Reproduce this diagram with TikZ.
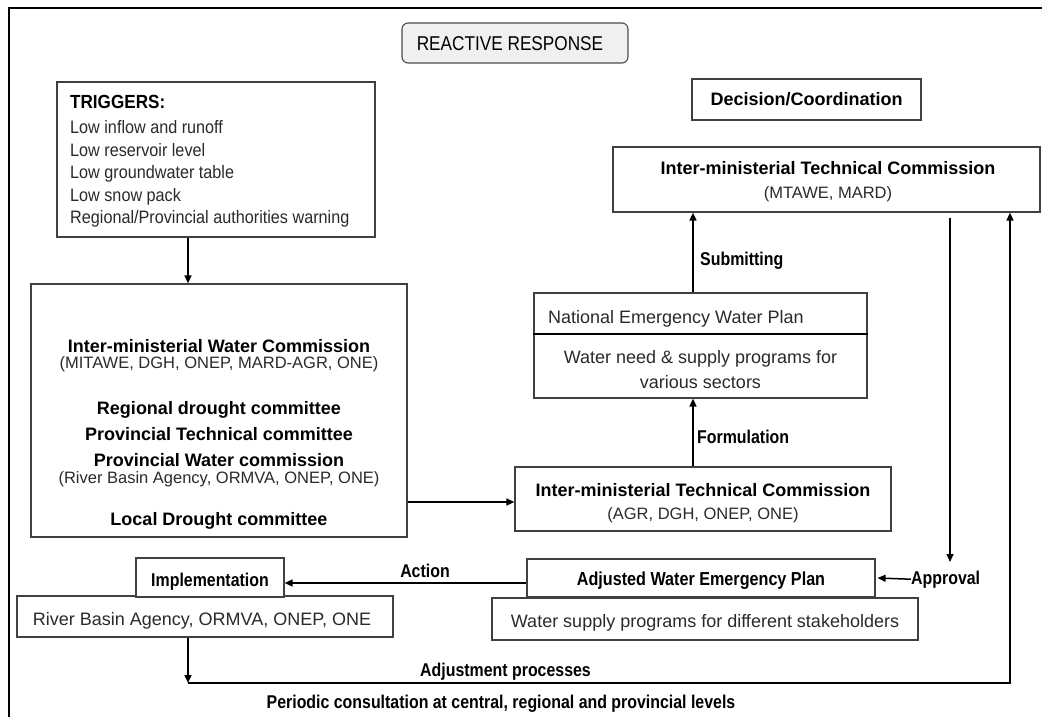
\documentclass[tikz,border=0pt]{standalone}
\usepackage{fontspec}
\setmainfont{Liberation Sans}
\newfontfamily\cond{Liberation Sans}[FakeStretch=0.9]
\newfontfamily\condn{Liberation Sans}[FakeStretch=0.86]
\usetikzlibrary{arrows.meta,calc}
\definecolor{boxc}{HTML}{404040}
\definecolor{regc}{HTML}{2A2A2A}
\begin{document}
\begin{tikzpicture}[x=1pt,y=-1pt,
  box/.style={draw=boxc,line width=1.2pt,fill=white,inner sep=0pt},
  arr/.style={-{Triangle[length=8pt,width=7pt]},line width=1.5pt,black},
  bt/.style={font=\fontsize{18}{20}\selectfont\bfseries,inner sep=0pt,anchor=base},
  rt/.style={font=\fontsize{18}{20}\selectfont,text=regc,inner sep=0pt,anchor=base},
  pt/.style={font=\fontsize{16.5}{18}\selectfont,text=regc,inner sep=0pt,anchor=base},
  lbl/.style={font=\condn\fontsize{18.5}{20}\selectfont\bfseries,inner sep=0pt,anchor=base},
  trt/.style={font=\cond\fontsize{18}{20}\selectfont,text=regc,inner sep=0pt,anchor=base west},
]
\useasboundingbox (0,0) rectangle (1042,717);
\fill[white] (0,0) rectangle (1042,717);
% frame
\draw[line width=1.8pt] (9,717) -- (9,8) -- (1042,8);

% reactive response
\node[draw=gray!60!black,line width=1.1pt,fill=gray!12,rounded corners=6pt,minimum width=226pt,minimum height=40pt,inner sep=0pt] (rr) at (515,43) {};
\node[font=\condn\fontsize{20}{22}\selectfont,inner sep=0pt,anchor=base] (rrt) at (510,50.5) {REACTIVE RESPONSE};

% triggers
\node[box,minimum width=318pt,minimum height=155pt] (trig) at (216,159.5) {};
\node[font=\cond\fontsize{19}{21}\selectfont\bfseries,inner sep=0pt,anchor=base west] (trh) at (70,108.5) {TRIGGERS:};
\node[trt] (tr1) at (70,133.5) {Low inflow and runoff};
\node[trt] (tr2) at (70,156) {Low reservoir level};
\node[trt] (tr3) at (70,178.5) {Low groundwater table};
\node[trt] (tr4) at (70,201) {Low snow pack};
\node[trt] (tr5) at (70,223.5) {Regional/Provincial authorities warning};

% big box
\node[box,minimum width=376pt,minimum height=253pt] (big) at (219,410.5) {};
\node[bt] (b1) at (219,352.5) {Inter-ministerial Water Commission};
\node[pt] (b2) at (219,368) {(MITAWE, DGH, ONEP, MARD-AGR, ONE)};
\node[bt] (b3) at (219,414) {Regional drought committee};
\node[bt] (b4) at (219,440.5) {Provincial Technical committee};
\node[bt] (b5) at (219,466.5) {Provincial Water commission};
\node[pt] (b6) at (219,483) {(River Basin Agency, ORMVA, ONEP, ONE)};
\node[bt] (b7) at (219,525) {Local Drought committee};

% decision
\node[box,minimum width=229pt,minimum height=41pt] (dec) at (806.5,99.5) {};
\node[bt] (dect) at (806.5,106) {Decision/Coordination};

% ITC 1
\node[box,minimum width=427pt,minimum height=65pt] (itc1) at (826.5,179.5) {};
\node[bt] (i1a) at (828,174.5) {Inter-ministerial Technical Commission};
\node[pt] (i1b) at (828,198) {(MTAWE, MARD)};

% National emergency water plan
\node[box,minimum width=333pt,minimum height=105pt] (newp) at (700.5,345.5) {};
\draw[line width=1.6pt,black] (newp.west |- 0,334) -- (newp.east |- 0,334);
\node[rt,anchor=base west] (n1) at (548,323) {National Emergency Water Plan};
\node[rt] (n2) at (700.5,363.5) {Water need \& supply programs for};
\node[rt] (n3) at (700.5,388.5) {various sectors};

% ITC 2
\node[box,minimum width=376pt,minimum height=64pt] (itc2) at (703,499) {};
\node[bt] (i2a) at (703,496.5) {Inter-ministerial Technical Commission};
\node[pt] (i2b) at (703,519.5) {(AGR, DGH, ONEP, ONE)};

% adjusted water emergency plan
\node[box,minimum width=348pt,minimum height=38pt] (awep) at (701,578) {};
\node[font=\condn\fontsize{18.8}{20}\selectfont\bfseries,inner sep=0pt,anchor=base] (awt) at (701,585) {Adjusted Water Emergency Plan};
\node[box,minimum width=426pt,minimum height=42pt] (ws) at (705,619) {};
\node[rt] (wst) at (705,627) {Water supply programs for different stakeholders};

% implementation
\node[box,minimum width=376pt,minimum height=41pt] (rba) at (205,616.5) {};
\node[rt] (rbat) at (202,625) {River Basin Agency, ORMVA, ONEP, ONE};
\node[box,minimum width=148pt,minimum height=39pt] (impl) at (210,577.5) {};
\node[font=\condn\fontsize{18.5}{20}\selectfont\bfseries,inner sep=0pt,anchor=base] (implt) at (210,586) {Implementation};

% connectors
\draw[arr] ([xshift=-28pt]trig.south) -- ([xshift=-28pt]trig.south |- big.north);
\coordinate (bi) at ([yshift=-3pt]itc2.west);
\draw[arr] (big.east |- bi) -- (bi);
\coordinate (f1) at ([xshift=-10pt]itc2.north);
\draw[arr] (f1) -- (f1 |- newp.south);
\node[lbl,anchor=base west] (form) at (697,443.5) {Formulation};
\coordinate (s1) at ([xshift=-7.5pt]newp.north);
\draw[arr] (s1) -- (s1 |- itc1.south);
\node[lbl,anchor=base west] (subm) at (700,265) {Submitting};

\coordinate (ap1) at ([xshift=123.5pt,yshift=-5pt]itc1.south);
\coordinate (ap2) at (950,562);
\draw[arr] (ap1) -- (ap2);
\node[lbl,anchor=base west] (appr) at (911,584) {Approval};
\draw[arr] (appr.west) -- ([xshift=2pt]awep.east);

\coordinate (ac) at ([yshift=-5pt]awep.west);
\draw[arr] (ac) -- (impl.east |- ac);
\node[lbl] (act) at (425,577.5) {Action};

\coordinate (c1) at (188,683);
\coordinate (c2) at (1010,683);
\draw[arr] ([xshift=-17pt]rba.south) -- (c1);
\draw[arr] (c1) -- (c2) -- (c2 |- itc1.south);
\node[lbl] (adj) at (505.5,676.5) {Adjustment processes};
\node[lbl] (per) at (501,708.5) {Periodic consultation at central, regional and provincial levels};
\end{tikzpicture}
\end{document}
